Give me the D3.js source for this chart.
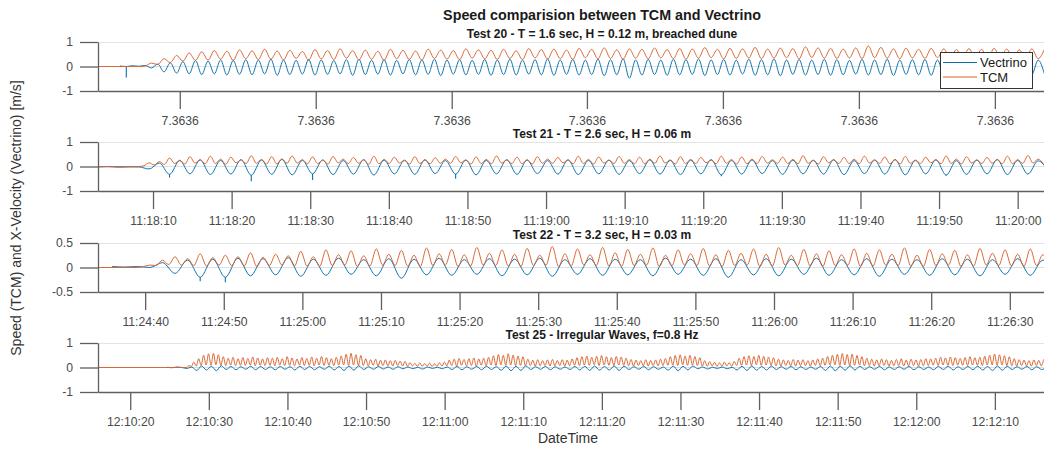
<!DOCTYPE html>
<html>
<head>
<meta charset="utf-8">
<script src="https://cdn.jsdelivr.net/npm/d3@7"></script>
<style>
  html, body { margin: 0; padding: 0; background: #fff; }
  svg { display: block; }
</style>
</head>
<body>
<svg id="chart" width="1044" height="449"></svg>
<script>
// ---------------------------------------------------------------------------
// Speed (TCM) vs X-velocity (Vectrino), four wave tests.
// Each trace is stored as its turning points (crests, troughs, dips) sampled
// on a regular time step; t0 and dt are in seconds from the left of the axis.
// ---------------------------------------------------------------------------

const figTitle = "Speed comparision between TCM and Vectrino";
const panelTitles = [
  "Test 20 - T = 1.6 sec, H = 0.12 m, breached dune",
  "Test 21 - T = 2.6 sec, H = 0.06 m",
  "Test 22 - T = 3.2 sec, H = 0.03 m",
  "Test 25 - Irregular Waves, f=0.8 Hz"
];
const yLabel = "Speed (TCM) and X-Velocity (Vectrino) [m/s]";
const xLabel = "DateTime";
const seriesNames = ["Vectrino", "TCM"];

// visible time span of every axis (s)
const secondsShown = 120.35;

// Test 20 uses a serial-date axis: tick positions (s) and their labels
const p1TickSec = [10.4, 27.7, 45.0, 62.2, 79.5, 96.8, 114.1];
const p1TickLabels = ["7.3636", "7.3636", "7.3636", "7.3636", "7.3636", "7.3636", "7.3636"];

// clock time at the left edge of the Test 21, 22, 25 axes
const p2Start = "2017-03-01T11:18:03.0Z";
const p3Start = "2017-03-01T11:24:34.0Z";
const p4Start = "2017-03-01T12:10:15.9Z";

const yTicksUnit = [-1, 0, 1];
const yTicksHalf = [-0.5, 0, 0.5];

// ---------------- Test 20 ----------------
const p1VecT0 = 2.8, p1VecDt = 0.8;
const p1Vec = [
  0.02, 0.00, 0.03, 0.01, 0.04, -0.06, 0.10, -0.22, 0.15, -0.27,
  0.20, -0.30, 0.24, -0.33, 0.22, -0.30, 0.27, -0.35, 0.25, -0.32,
  0.28, -0.34, 0.26, -0.30, 0.30, -0.36, 0.27, -0.33, 0.25, -0.31,
  0.29, -0.35, 0.27, -0.32, 0.24, -0.30, 0.28, -0.36, 0.30, -0.33,
  0.26, -0.31, 0.28, -0.35, 0.25, -0.30, 0.29, -0.34, 0.27, -0.32,
  0.30, -0.37, 0.26, -0.31, 0.28, -0.34, 0.25, -0.32, 0.29, -0.36,
  0.27, -0.33, 0.30, -0.35, 0.26, -0.31, 0.28, -0.34, 0.31, -0.36,
  0.27, -0.32, 0.29, -0.35, 0.26, -0.33, 0.30, -0.38, 0.28, -0.34,
  0.32, -0.48, 0.27, -0.35, 0.29, -0.33, 0.26, -0.36, 0.30, -0.34,
  0.28, -0.32, 0.31, -0.37, 0.27, -0.33, 0.29, -0.35, 0.26, -0.31,
  0.30, -0.36, 0.28, -0.34, 0.31, -0.38, 0.27, -0.32, 0.29, -0.35,
  0.26, -0.33, 0.30, -0.36, 0.28, -0.34, 0.25, -0.31, 0.29, -0.35,
  0.27, -0.33, 0.30, -0.37, 0.26, -0.32, 0.28, -0.34, 0.29, -0.36,
  0.27, -0.33, 0.30, -0.35, 0.26, -0.31, 0.28, -0.34, 0.29, -0.36,
  0.27, -0.32, 0.30, -0.35, 0.28, -0.33, 0.26, -0.30
];
const p1TcmT0 = 5.2, p1TcmDt = 0.8;
const p1Tcm = [
  0.00, 0.02, 0.14, 0.08, 0.32, 0.16, 0.45, 0.22, 0.55, 0.25,
  0.60, 0.26, 0.65, 0.30, 0.62, 0.25, 0.68, 0.32, 0.64, 0.28,
  0.70, 0.30, 0.63, 0.27, 0.66, 0.33, 0.61, 0.26, 0.69, 0.31,
  0.65, 0.28, 0.72, 0.34, 0.64, 0.27, 0.67, 0.30, 0.62, 0.25,
  0.70, 0.32, 0.66, 0.29, 0.63, 0.26, 0.71, 0.33, 0.67, 0.30,
  0.65, 0.28, 0.72, 0.34, 0.68, 0.31, 0.66, 0.29, 0.70, 0.33,
  0.64, 0.28, 0.73, 0.35, 0.69, 0.30, 0.71, 0.32, 0.67, 0.29,
  0.74, 0.36, 0.70, 0.31, 0.76, 0.33, 0.68, 0.30, 0.72, 0.34,
  0.70, 0.31, 0.75, 0.35, 0.69, 0.32, 0.73, 0.30, 0.71, 0.34,
  0.77, 0.36, 0.70, 0.31, 0.74, 0.33, 0.72, 0.35, 0.78, 0.32,
  0.71, 0.34, 0.75, 0.36, 0.73, 0.31, 0.80, 0.37, 0.76, 0.34,
  0.74, 0.33, 0.71, 0.35, 0.76, 0.32, 0.84, 0.36, 0.78, 0.34,
  0.72, 0.31, 0.75, 0.35, 0.70, 0.33, 0.74, 0.36, 0.72, 0.32,
  0.69, 0.34, 0.73, 0.35, 0.70, 0.31, 0.74, 0.36, 0.71, 0.33,
  0.68, 0.34, 0.72, 0.32, 0.70
];
const p1Spikes = [[3.6, -0.45]];

// ---------------- Test 21 ----------------
const p2VecT0 = 0, p2VecDt = 1.3;
const p2Vec = [
  -0.02, -0.01, -0.03, -0.02, -0.02, -0.10, 0.14, -0.32,
  0.24, -0.30, 0.27, -0.33, 0.25, -0.31, 0.28, -0.36, 0.26, -0.32,
  0.29, -0.34, 0.25, -0.30, 0.27, -0.33, 0.24, -0.31, 0.28, -0.35,
  0.26, -0.30, 0.25, -0.32, 0.27, -0.29, 0.24, -0.31, 0.26, -0.34,
  0.25, -0.30, 0.28, -0.32, 0.26, -0.29, 0.24, -0.31, 0.27, -0.33,
  0.25, -0.30, 0.26, -0.32, 0.24, -0.29, 0.27, -0.31, 0.25, -0.33,
  0.26, -0.30, 0.28, -0.34, 0.25, -0.31, 0.27, -0.29, 0.24, -0.32,
  0.26, -0.30, 0.25, -0.31, 0.27, -0.33, 0.24, -0.29, 0.26, -0.31,
  0.28, -0.34, 0.25, -0.30, 0.27, -0.35, 0.24, -0.32, 0.26, -0.30,
  0.28, -0.33, 0.25, -0.31, 0.23, -0.20
];
const p2TcmT0 = 5.2, p2TcmDt = 0.65;
const p2Tcm = [
  0.00, 0.03, 0.15, 0.06, 0.20, 0.08,
  0.35, 0.12, 0.26, 0.10,  0.40, 0.14, 0.28, 0.11,  0.42, 0.12, 0.30, 0.09,
  0.38, 0.15, 0.27, 0.12,  0.44, 0.13, 0.29, 0.10,  0.40, 0.11, 0.31, 0.13,
  0.43, 0.14, 0.28, 0.11,  0.39, 0.12, 0.26, 0.10,  0.41, 0.15, 0.30, 0.12,
  0.37, 0.13, 0.27, 0.09,  0.42, 0.11, 0.29, 0.12,  0.38, 0.14, 0.26, 0.10,
  0.40, 0.12, 0.28, 0.11,  0.36, 0.13, 0.30, 0.13,  0.41, 0.15, 0.27, 0.10,
  0.39, 0.12, 0.29, 0.11,  0.43, 0.14, 0.26, 0.12,  0.38, 0.11, 0.28, 0.10,
  0.40, 0.13, 0.30, 0.13,  0.37, 0.15, 0.27, 0.11,  0.42, 0.12, 0.29, 0.10,
  0.39, 0.14, 0.26, 0.12,  0.41, 0.13, 0.28, 0.11,  0.38, 0.11, 0.30, 0.13,
  0.43, 0.14, 0.27, 0.10,  0.40, 0.12, 0.29, 0.12,  0.37, 0.15, 0.26, 0.11,
  0.42, 0.13, 0.28, 0.10,  0.39, 0.11, 0.30, 0.12,  0.41, 0.14, 0.27, 0.13,
  0.38, 0.12, 0.29, 0.11,  0.44, 0.13, 0.26, 0.10,  0.40, 0.15, 0.28, 0.12,
  0.37, 0.12, 0.30, 0.11,  0.42, 0.14, 0.27, 0.13,  0.39, 0.11, 0.29, 0.10,
  0.41, 0.13, 0.26, 0.12,  0.38, 0.15, 0.28, 0.11,  0.43, 0.12, 0.30, 0.10,
  0.40, 0.14, 0.27, 0.12,  0.37, 0.13, 0.29, 0.11,  0.42, 0.11, 0.28, 0.13,
  0.45, 0.14, 0.30, 0.12
];
const p2Spikes = [[9.1, -0.45], [19.5, -0.60], [27.3, -0.55], [45.5, -0.50], [79.3, -0.40], [107.9, -0.38]];

// ---------------- Test 22 ----------------
const p3VecT0 = 1.8, p3VecDt = 1.6;
const p3Vec = [
  0.02, 0.01, 0.02, 0.00, 0.10, -0.12, 0.15,
  -0.20, 0.17, -0.20, 0.19, -0.17, 0.18, -0.15, 0.20, -0.18, 0.17,
  -0.16, 0.19, -0.14, 0.16, -0.17, 0.18, -0.22, 0.17, -0.15, 0.19,
  -0.16, 0.16, -0.14, 0.18, -0.17, 0.17, -0.15, 0.19, -0.18, 0.16,
  -0.14, 0.18, -0.16, 0.17, -0.15, 0.16, -0.17, 0.19, -0.14, 0.17,
  -0.16, 0.18, -0.20, 0.16, -0.15, 0.18, -0.17, 0.17, -0.14, 0.19,
  -0.16, 0.16, -0.15, 0.18, -0.18, 0.17, -0.14, 0.16, -0.16, 0.18,
  -0.15, 0.17, -0.17, 0.16, -0.14, 0.18, -0.16, 0.15, -0.12
];
const p3TcmT0 = 5.0, p3TcmDt = 0.8;
const p3Tcm = [
  0.00, 0.02, 0.05, 0.04, 0.15, 0.06,
  0.22, 0.05, 0.18, 0.04,  0.28, 0.03, 0.20, 0.05,  0.25, 0.04, 0.22, 0.03,
  0.30, 0.02, 0.21, 0.04,  0.27, 0.05, 0.24, 0.03,  0.33, 0.03, 0.22, 0.02,
  0.36, 0.04, 0.26, 0.05,  0.34, 0.02, 0.24, 0.03,  0.38, 0.05, 0.27, 0.04,
  0.35, 0.03, 0.25, 0.02,  0.40, 0.04, 0.28, 0.05,  0.37, 0.02, 0.26, 0.03,
  0.41, 0.05, 0.29, 0.04,  0.36, 0.03, 0.27, 0.02,  0.39, 0.04, 0.25, 0.05,
  0.43, 0.02, 0.28, 0.03,  0.38, 0.05, 0.26, 0.04,  0.41, 0.03, 0.30, 0.02,
  0.37, 0.04, 0.27, 0.05,  0.40, 0.02, 0.25, 0.03,  0.36, 0.05, 0.28, 0.04,
  0.39, 0.03, 0.26, 0.02,  0.35, 0.04, 0.29, 0.05,  0.38, 0.02, 0.27, 0.03,
  0.41, 0.05, 0.25, 0.04,  0.37, 0.03, 0.28, 0.02,  0.34, 0.04, 0.26, 0.05,
  0.38, 0.02, 0.29, 0.03,  0.36, 0.05, 0.27, 0.04,  0.40, 0.03, 0.25, 0.02,
  0.37, 0.04, 0.28, 0.05,  0.35, 0.02, 0.26, 0.03,  0.39, 0.05, 0.29, 0.04,
  0.36, 0.03, 0.27, 0.02,  0.38, 0.04, 0.26, 0.05
];
const p3Spikes = [[13.0, -0.28], [16.2, -0.30]];

// ---------------- Test 25 ----------------
const p4VecT0 = 8.8, p4VecDt = 0.625;
const p4Vec = [
  0.01, -0.01, 0.02, 0.00,
  -0.04, 0.02,  -0.12, 0.06, -0.10, 0.05, -0.13, 0.07,
  -0.08, 0.04, -0.09, 0.03, -0.07, 0.05, -0.09, 0.04, -0.08, 0.03,
  -0.09, 0.04, -0.07, 0.03, -0.10, 0.05, -0.08, 0.04, -0.09, 0.03, -0.07, 0.05, -0.10, 0.04,
  -0.12, 0.06, -0.11, 0.07,
  -0.08, 0.03, -0.07, 0.04, -0.06, 0.02, -0.07, 0.03, -0.05, 0.02,
  -0.05, 0.01, -0.06, 0.02, -0.04, 0.01, -0.05, 0.02,
  -0.08, 0.04, -0.09, 0.03, -0.07, 0.04, -0.09, 0.05, -0.08, 0.03,
  -0.11, 0.06, -0.13, 0.05, -0.12, 0.07,
  -0.08, 0.03, -0.07, 0.04, -0.09, 0.03, -0.07, 0.02, -0.08, 0.04,
  -0.10, 0.05, -0.12, 0.06, -0.11, 0.04, -0.10, 0.06, -0.12, 0.05,
  -0.08, 0.03, -0.07, 0.04, -0.09, 0.03, -0.07, 0.02,
  -0.11, 0.06, -0.13, 0.05, -0.10, 0.06,
  -0.05, 0.02, -0.06, 0.01, -0.04, 0.02, -0.05, 0.01,
  -0.10, 0.05, -0.12, 0.06, -0.11, 0.04, -0.10, 0.05,
  -0.08, 0.03, -0.07, 0.04, -0.09, 0.03, -0.08, 0.02, -0.07, 0.04,
  -0.12, 0.06, -0.13, 0.05, -0.11, 0.07, -0.10, 0.05,
  -0.08, 0.03, -0.07, 0.04, -0.09, 0.02, -0.08, 0.03, -0.07, 0.04, -0.09, 0.03, -0.08, 0.02,
  -0.09, 0.04, -0.08, 0.05, -0.10, 0.03, -0.08, 0.04, -0.09, 0.05, -0.10, 0.04,
  -0.12, 0.06, -0.11, 0.05,
  -0.08, 0.03, -0.07, 0.04, -0.09, 0.03, -0.08, 0.02
];
const p4TcmT0 = 11.25, p4TcmDt = 0.3125;
const p4Tcm = [
  0.00, 0.08, 0.04, 0.22, 0.06, 0.36,
  0.08, 0.50, 0.10, 0.56, 0.09, 0.58, 0.11, 0.52,
  0.09, 0.44, 0.08, 0.38, 0.10, 0.42, 0.07, 0.36, 0.09, 0.41,
  0.08, 0.37, 0.10, 0.43, 0.07, 0.39, 0.09, 0.35, 0.08, 0.40,
  0.09, 0.38, 0.07, 0.42, 0.10, 0.36, 0.08, 0.44, 0.09, 0.39,
  0.07, 0.35, 0.10, 0.41, 0.08, 0.37, 0.09, 0.43, 0.07, 0.38,
  0.10, 0.45, 0.08, 0.40, 0.09, 0.36, 0.07, 0.42, 0.10, 0.47,
  0.11, 0.54, 0.09, 0.58, 0.10, 0.52, 0.08, 0.49,
  0.08, 0.36, 0.07, 0.32, 0.09, 0.34, 0.06, 0.30, 0.08, 0.31,
  0.07, 0.28, 0.06, 0.29, 0.08, 0.26, 0.06, 0.25,
  0.05, 0.20, 0.06, 0.17, 0.04, 0.19, 0.05, 0.16, 0.06, 0.18,
  0.04, 0.15, 0.05, 0.19, 0.06, 0.22,
  0.07, 0.30, 0.08, 0.34, 0.06, 0.37, 0.09, 0.33, 0.07, 0.36,
  0.08, 0.39, 0.06, 0.35, 0.09, 0.38, 0.07, 0.42,
  0.10, 0.48, 0.08, 0.53, 0.11, 0.50, 0.09, 0.56, 0.10, 0.51,
  0.08, 0.47, 0.09, 0.44,
  0.07, 0.34, 0.08, 0.30, 0.06, 0.32, 0.07, 0.28, 0.08, 0.31,
  0.06, 0.33, 0.07, 0.29, 0.08, 0.32, 0.06, 0.30, 0.07, 0.35,
  0.09, 0.40, 0.08, 0.44, 0.10, 0.47, 0.09, 0.42, 0.11, 0.46,
  0.08, 0.49, 0.10, 0.44, 0.09, 0.41, 0.08, 0.45, 0.10, 0.43, 0.09, 0.38,
  0.07, 0.33, 0.06, 0.30, 0.08, 0.28, 0.07, 0.32, 0.06, 0.29,
  0.08, 0.31, 0.07, 0.34, 0.08, 0.37,
  0.09, 0.44, 0.10, 0.49, 0.08, 0.52, 0.11, 0.47, 0.09, 0.50,
  0.10, 0.45, 0.08, 0.40,
  0.06, 0.28, 0.05, 0.24, 0.06, 0.21, 0.04, 0.19, 0.05, 0.22,
  0.06, 0.20, 0.05, 0.25,
  0.08, 0.38, 0.09, 0.44, 0.10, 0.48, 0.08, 0.45, 0.11, 0.50,
  0.09, 0.46, 0.10, 0.43, 0.08, 0.40,
  0.07, 0.34, 0.06, 0.31, 0.08, 0.29, 0.07, 0.33, 0.06, 0.30,
  0.08, 0.32, 0.07, 0.28, 0.06, 0.31, 0.08, 0.35, 0.07, 0.38,
  0.09, 0.45, 0.10, 0.50, 0.11, 0.54, 0.09, 0.57, 0.10, 0.53,
  0.08, 0.55, 0.09, 0.49, 0.10, 0.44,
  0.07, 0.38, 0.08, 0.34, 0.06, 0.31, 0.07, 0.35, 0.08, 0.32,
  0.06, 0.29, 0.07, 0.33, 0.08, 0.36, 0.06, 0.30, 0.07, 0.34,
  0.08, 0.31, 0.06, 0.33, 0.07, 0.36, 0.08, 0.35,
  0.09, 0.38, 0.08, 0.42, 0.10, 0.39, 0.09, 0.43, 0.08, 0.40,
  0.10, 0.37, 0.09, 0.41, 0.08, 0.44, 0.10, 0.40, 0.09, 0.42, 0.08, 0.46,
  0.10, 0.50, 0.11, 0.55, 0.09, 0.52, 0.10, 0.48, 0.08, 0.44,
  0.07, 0.36, 0.06, 0.32, 0.08, 0.30, 0.07, 0.28, 0.06, 0.31,
  0.08, 0.29, 0.07, 0.33
];
const p4Spikes = [];

// ---------------------------------------------------------------------------
// drawing
// ---------------------------------------------------------------------------
const FONT = '"Liberation Sans", Arial, Helvetica, sans-serif';
const COLOR_VEC = "#0b6fa8";
const COLOR_TCM = "#d8612a";
const AXIS_COLOR = "#5f5f5f";
const TICK_TEXT = "#4a4a4a";

const plotLeft = 98, plotRight = 1044, plotH = 49;

const svg = d3.select("#chart");
svg.append("rect").attr("width", 1044).attr("height", 449).attr("fill", "#fff");

const samples = (t0, dt, vals) => vals.map((v, i) => ({ t: t0 + i * dt, v }));
// TCM reads zero from the start of the record until the waves arrive
const withLead = pts => [{ t: 0, v: 0 }].concat(pts);

const panels = [
  { title: panelTitles[0], top: 42, yDomain: [-1, 1], yTicks: yTicksUnit, start: null,
    vec: samples(p1VecT0, p1VecDt, p1Vec), tcm: withLead(samples(p1TcmT0, p1TcmDt, p1Tcm)),
    vecT0: p1VecT0, vecDt: p1VecDt, vecVals: p1Vec, spikes: p1Spikes, legend: true },
  { title: panelTitles[1], top: 142, yDomain: [-1, 1], yTicks: yTicksUnit, start: p2Start,
    vec: samples(p2VecT0, p2VecDt, p2Vec), tcm: withLead(samples(p2TcmT0, p2TcmDt, p2Tcm)),
    vecT0: p2VecT0, vecDt: p2VecDt, vecVals: p2Vec, spikes: p2Spikes },
  { title: panelTitles[2], top: 243, yDomain: [-0.5, 0.5], yTicks: yTicksHalf, start: p3Start,
    vec: samples(p3VecT0, p3VecDt, p3Vec), tcm: withLead(samples(p3TcmT0, p3TcmDt, p3Tcm)),
    vecT0: p3VecT0, vecDt: p3VecDt, vecVals: p3Vec, spikes: p3Spikes },
  { title: panelTitles[3], top: 343, yDomain: [-1, 1], yTicks: yTicksUnit, start: p4Start,
    vec: samples(p4VecT0, p4VecDt, p4Vec), tcm: withLead(samples(p4TcmT0, p4TcmDt, p4Tcm)),
    vecT0: p4VecT0, vecDt: p4VecDt, vecVals: p4Vec, spikes: p4Spikes }
];

function styleAxis(g) {
  g.selectAll("path.domain").attr("stroke", AXIS_COLOR).attr("stroke-width", 1.3);
  g.selectAll(".tick line").attr("stroke", AXIS_COLOR).attr("stroke-width", 1.3);
  g.selectAll(".tick text")
    .attr("fill", TICK_TEXT)
    .style("font-family", FONT)
    .style("font-size", "12.2px");
}

panels.forEach((p, k) => {
  const top = p.top, bottom = p.top + plotH;
  const y = d3.scaleLinear().domain(p.yDomain).range([bottom, top]);

  let x, tx, xAxis;
  if (p.start === null) {
    x = d3.scaleLinear().domain([0, secondsShown]).range([plotLeft, plotRight]);
    tx = t => x(t);
    xAxis = d3.axisBottom(x).tickValues(p1TickSec).tickFormat((d, i) => p1TickLabels[i]);
  } else {
    const s = new Date(p.start);
    x = d3.scaleUtc().domain([s, new Date(+s + secondsShown * 1000)]).range([plotLeft, plotRight]);
    tx = t => x(new Date(+s + t * 1000));
    xAxis = d3.axisBottom(x).ticks(d3.utcSecond.every(10)).tickFormat(d3.utcFormat("%H:%M:%S"));
  }
  xAxis.tickSize(18).tickPadding(7.5).tickSizeOuter(0);
  const yAxis = d3.axisLeft(y).tickValues(p.yTicks).tickFormat(d => String(d))
    .tickSize(18).tickPadding(7).tickSizeOuter(0);

  const g = svg.append("g");

  // light upper frame edge and faint zero reference
  g.append("line").attr("x1", plotLeft).attr("x2", plotRight)
    .attr("y1", top + 0.5).attr("y2", top + 0.5)
    .attr("stroke", "#e4e4e4").attr("stroke-width", 1);
  g.append("line").attr("x1", plotLeft).attr("x2", plotRight)
    .attr("y1", y(0)).attr("y2", y(0))
    .attr("stroke", "#d6e3ea").attr("stroke-width", 1);

  const clipId = "clip" + k;
  svg.append("clipPath").attr("id", clipId).append("rect")
    .attr("x", plotLeft).attr("y", top).attr("width", plotRight - plotLeft).attr("height", plotH);

  const data = g.append("g").attr("clip-path", `url(#${clipId})`);
  const line = d3.line().x(d => tx(d.t)).y(d => y(d.v)).curve(d3.curveMonotoneX);

  data.append("path").datum(p.vec).attr("d", line)
    .attr("fill", "none").attr("stroke", COLOR_VEC).attr("stroke-width", 0.95)
    .attr("stroke-linejoin", "round");

  // short sharp drops in the Vectrino record
  data.selectAll("line.spike").data(p.spikes).join("line").attr("class", "spike")
    .attr("x1", d => tx(d[0])).attr("x2", d => tx(d[0]))
    .attr("y1", d => y(p.vecVals[Math.round((d[0] - p.vecT0) / p.vecDt)]))
    .attr("y2", d => y(d[1]))
    .attr("stroke", COLOR_VEC).attr("stroke-width", 1.1);

  data.append("path").datum(p.tcm).attr("d", line)
    .attr("fill", "none").attr("stroke", COLOR_TCM).attr("stroke-width", 0.95)
    .attr("stroke-linejoin", "round");

  const gx = g.append("g").attr("transform", `translate(0,${bottom})`).call(xAxis);
  styleAxis(gx);
  const gy = g.append("g").attr("transform", `translate(${plotLeft},0)`).call(yAxis);
  styleAxis(gy);

  // panel title
  svg.append("text")
    .attr("x", 602).attr("y", top - 4.5)
    .attr("text-anchor", "middle")
    .style("font-family", FONT).style("font-size", "12px").style("font-weight", "bold")
    .attr("fill", "#1a1a1a")
    .text(p.title);

  if (p.legend) {
    const lg = svg.append("g");
    lg.append("rect").attr("x", 940.5).attr("y", 52.5).attr("width", 92).attr("height", 36)
      .attr("fill", "#fff").attr("stroke", "#333").attr("stroke-width", 1);
    const items = [
      { name: seriesNames[0], color: COLOR_VEC, y: 62.5 },
      { name: seriesNames[1], color: COLOR_TCM, y: 77 }
    ];
    items.forEach(it => {
      lg.append("line").attr("x1", 943).attr("x2", 977).attr("y1", it.y).attr("y2", it.y)
        .attr("stroke", it.color).attr("stroke-width", 1);
      lg.append("text").attr("x", 980).attr("y", it.y + 4.5)
        .style("font-family", FONT).style("font-size", "13px").attr("fill", "#1a1a1a")
        .text(it.name);
    });
  }
});

// figure title
svg.append("text")
  .attr("x", 602).attr("y", 19.5).attr("text-anchor", "middle")
  .style("font-family", FONT).style("font-size", "14.3px").style("font-weight", "bold")
  .attr("fill", "#1a1a1a")
  .text(figTitle);

// shared axis labels
svg.append("text")
  .attr("transform", "translate(21,218) rotate(-90)")
  .attr("text-anchor", "middle")
  .style("font-family", FONT).style("font-size", "14px")
  .attr("fill", "#333")
  .text(yLabel);

svg.append("text")
  .attr("x", 568).attr("y", 443).attr("text-anchor", "middle")
  .style("font-family", FONT).style("font-size", "14px")
  .attr("fill", "#333")
  .text(xLabel);
</script>
</body>
</html>
